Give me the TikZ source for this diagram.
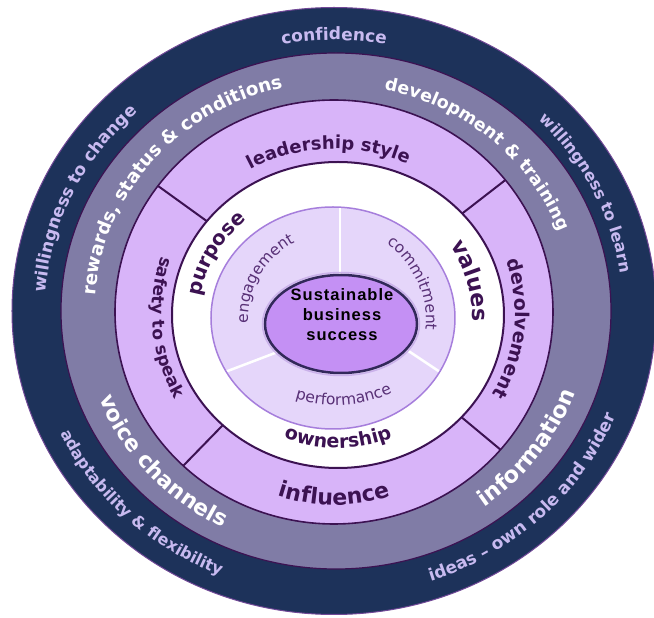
\documentclass[tikz,border=0pt]{standalone}
\usepackage{fontspec}
\setmainfont{DejaVu Sans}
\newfontfamily\hubfont[LetterSpace=6]{Liberation Sans}
\usetikzlibrary{calc,decorations.text}

\definecolor{navy}{RGB}{29,50,90}
\definecolor{navytext}{RGB}{200,186,240}
\definecolor{greyin}{RGB}{128,124,166}
\definecolor{greyout}{RGB}{178,175,206}
\definecolor{lilac}{RGB}{202,158,242}
\definecolor{lilacin}{RGB}{216,180,249}
\definecolor{plum}{RGB}{60,18,82}
\definecolor{mist}{RGB}{229,214,250}
\definecolor{mistline}{RGB}{166,126,220}
\definecolor{mistext}{RGB}{88,48,118}
\definecolor{hubin}{RGB}{196,144,244}
\definecolor{hubout}{RGB}{146,86,212}
\definecolor{hubline}{RGB}{50,40,90}

\pgfdeclareradialshading{greyband}{\pgfpoint{0bp}{0bp}}{color(0bp)=(greyin); color(40bp)=(greyin); color(50bp)=(greyout)}
\pgfdeclareradialshading{lilacband}{\pgfpoint{0bp}{0bp}}{color(0bp)=(lilacin); color(36bp)=(lilacin); color(50bp)=(lilac)}
\pgfdeclareradialshading{hub}{\pgfpoint{-6bp}{10bp}}{color(0bp)=(hubin); color(30bp)=(hubin); color(50bp)=(hubout)}

\begin{document}
\begin{tikzpicture}[x=1pt,y=1pt,
  ring line/.style={draw=plum,line width=#1},
  divider/.style={plum,line width=2pt},
  spoke/.style={white,line width=2.5pt},
  curved/.style 2 args={decorate,decoration={text along path,text align=center,text color=#1,text={#2}}}]
  \useasboundingbox (-334,-307) rectangle (320,311);

  \coordinate (grey centre) at (2,0);
  \coordinate (lilac centre) at (0,-1);
  \coordinate (white centre) at (4,-4);
  \coordinate (mist centre) at (-1,-7);
  \coordinate (word centre) at (2,-9);
  \coordinate (hub centre) at (7,-13);

  \filldraw[fill=navy,draw=mistline!50!plum,line width=1pt] (0,0) ellipse [x radius=322,y radius=303.5];
  \shadedraw[shading=greyband,draw=plum,line width=1.2pt] (grey centre) ellipse [x radius=275,y radius=258];
  \shade[shading=lilacband] (lilac centre) ellipse [x radius=219,y radius=212];
  \foreach \a in {143.5,38.5,-40.5,226.5}
    \draw[divider] ($(lilac centre)+(\a:219 and 212)$) -- ($(lilac centre)+(\a:140 and 135)$);
  \draw[ring line=1.6pt] (lilac centre) ellipse [x radius=219,y radius=212];
  \filldraw[fill=white,ring line=2pt] (white centre) ellipse [x radius=166,y radius=153];

  \fill[mist] (mist centre) ellipse [x radius=122,y radius=111];
  \draw[spoke] (6,20) -- (6,110);
  \draw[spoke] (-30,-31) -- (-130,-69);
  \draw[spoke] (40,-17) -- (130,-77);
  \draw[mistline,line width=1.5pt] (mist centre) ellipse [x radius=122,y radius=111];

  \draw[mistline!60,line width=1.5pt] (hub centre) ellipse [x radius=78.5,y radius=51.5];
  \shadedraw[shading=hub,draw=hubline,line width=2.5pt] (hub centre) ellipse [x radius=76,y radius=49];
  \node[align=center,font=\hubfont\bfseries\fontsize{16.5}{20}\selectfont] (hub) at (8,-4) {Sustainable\\business\\success};

  \path[curved={navytext}{|\fontsize{17}{17}\selectfont\bfseries|confidence}] (130:289 and 271) arc[start angle=130,end angle=50,x radius=289,y radius=271];
  \path[curved={navytext}{|\fontsize{17}{17}\selectfont\bfseries|willingness to change}] (200:289 and 271) arc[start angle=200,end angle=110,x radius=289,y radius=271];
  \path[curved={navytext}{|\fontsize{16}{16}\selectfont\bfseries|willingness to learn}] (66:289 and 271) arc[start angle=66,end angle=-14,x radius=289,y radius=271];
  \path[curved={navytext}{|\fontsize{16}{16}\selectfont\bfseries|adaptability {\&} flexibility}] (180:303 and 285) arc[start angle=180,end angle=272,x radius=303,y radius=285];
  \path[curved={navytext}{|\fontsize{17}{17}\selectfont\bfseries|ideas {--}  own role and wider}] (270:303 and 285) arc[start angle=270,end angle=358,x radius=303,y radius=285];

  \path[shift={(grey centre)},curved={white}{|\fontsize{18.5}{18.5}\selectfont\bfseries|rewards, status {\&} conditions}] (200:241 and 229) arc[start angle=200,end angle=80,x radius=241,y radius=229];
  \path[shift={(grey centre)},curved={white}{|\fontsize{17.5}{17.5}\selectfont\bfseries|development {\&} training}] (95:238 and 226) arc[start angle=95,end angle=3,x radius=238,y radius=226];
  \path[shift={(grey centre)},curved={white}{|\fontsize{22}{22}\selectfont\bfseries|voice channels}] (182:254 and 242) arc[start angle=182,end angle=262,x radius=254,y radius=242];
  \path[shift={(grey centre)},curved={white}{|\fontsize{22.5}{22.5}\selectfont\bfseries|information}] (-76:254 and 242) arc[start angle=-76,end angle=3,x radius=254,y radius=242];

  \path[shift={(lilac centre)},curved={plum}{|\fontsize{18}{18}\selectfont\bfseries|leadership style}] (140:172 and 163) arc[start angle=140,end angle=44,x radius=172,y radius=163];
  \path[shift={(lilac centre)},curved={plum}{|\fontsize{19}{19}\selectfont\bfseries|devolvement}] (35:181 and 170) arc[start angle=35,end angle=-46,x radius=181,y radius=170];
  \path[shift={(lilac centre)},curved={plum}{|\fontsize{17}{17}\selectfont\bfseries|safety to speak}] (150:182 and 178) arc[start angle=150,end angle=221,x radius=182,y radius=178];
  \path[shift={(lilac centre)},curved={plum}{|\fontsize{22}{22}\selectfont\bfseries|influence}] (235:186 and 193) arc[start angle=235,end angle=305,x radius=186,y radius=193];

  \path[shift={(white centre)},curved={plum}{|\fontsize{20}{20}\selectfont\bfseries|purpose}] (190:139 and 126) arc[start angle=190,end angle=114,x radius=139,y radius=126];
  \path[shift={(white centre)},curved={plum}{|\fontsize{22}{22}\selectfont\bfseries|values}] (50:134 and 126) arc[start angle=50,end angle=-20,x radius=134,y radius=126];
  \path[shift={(white centre)},curved={plum}{|\fontsize{19}{19}\selectfont\bfseries|ownership}] (235:142 and 133) arc[start angle=235,end angle=305,x radius=142,y radius=133];

  \path[shift={(word centre)},curved={mistext}{|\fontsize{15.5}{15.5}\selectfont|engagement}] (200:88 and 88) arc[start angle=200,end angle=100,x radius=88,y radius=88];
  \path[shift={(word centre)},curved={mistext}{|\fontsize{15.5}{15.5}\selectfont|commitment}] (75:90 and 92) arc[start angle=75,end angle=-25,x radius=90,y radius=92];
  \path[shift={(word centre)},curved={mistext}{|\fontsize{15.5}{15.5}\selectfont|performance}] (225:108 and 85) arc[start angle=225,end angle=325,x radius=108,y radius=85];
\end{tikzpicture}
\end{document}
